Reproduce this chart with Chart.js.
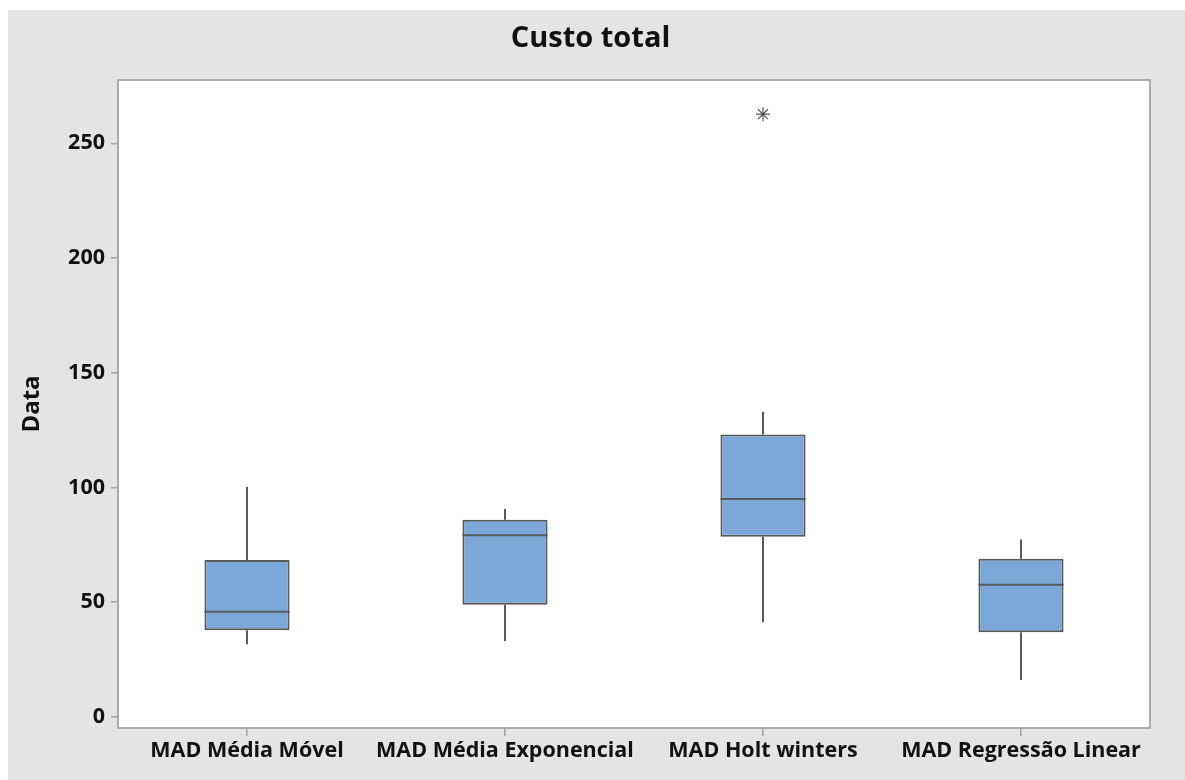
<!DOCTYPE html>
<html>
<head>
<meta charset="utf-8">
<title>Custo total</title>
<script src="https://cdn.jsdelivr.net/npm/chart.js@4.4.1/dist/chart.umd.min.js"></script>
<style>
  body { margin: 0; background: #ffffff; }
  #wrap { position: absolute; left: 8px; top: 10px; width: 1177px; height: 770px; background: #e4e4e4; }
</style>
</head>
<body>
<div id="wrap"><canvas id="chart" width="1177" height="770"></canvas></div>
<script>
const categories = ['MAD Média Móvel', 'MAD Média Exponencial', 'MAD Holt winters', 'MAD Regressão Linear'];
const whiskerLow = [31.6, 33.0, 41.2, 16.0];
const q1 = [37.7, 48.8, 78.5, 36.8];
const median = [45.8, 79.1, 94.9, 57.6];
const q3 = [68.3, 85.9, 123.1, 68.9];
const whiskerHigh = [100.3, 90.6, 133.0, 77.3];
const outliers = [null, null, 262.7, null];
const yTicks = [0, 50, 100, 150, 200, 250];

const lineColor = '#595959';
const frameColor = '#a3a3a3';
const font = 'Open Sans';

// whiskers, medians and the frame round the plot area
const boxPlot = {
    id: 'boxPlot',
    beforeDraw(chart) {
        const {ctx, chartArea: a} = chart;
        ctx.save();
        ctx.fillStyle = '#ffffff';
        ctx.fillRect(a.left, a.top, a.right - a.left, a.bottom - a.top);
        ctx.restore();
    },
    afterDatasetsDraw(chart) {
        const {ctx, chartArea: a, scales: {y}} = chart;
        const meta = chart.getDatasetMeta(0);
        ctx.save();
        ctx.strokeStyle = lineColor;
        ctx.lineWidth = 2;
        meta.data.forEach((bar, i) => {
            const x = bar.x, half = bar.width / 2;
            ctx.beginPath();
            ctx.moveTo(x, y.getPixelForValue(q3[i]));
            ctx.lineTo(x, y.getPixelForValue(whiskerHigh[i]));
            ctx.moveTo(x, y.getPixelForValue(q1[i]));
            ctx.lineTo(x, y.getPixelForValue(whiskerLow[i]));
            ctx.moveTo(x - half, y.getPixelForValue(median[i]));
            ctx.lineTo(x + half, y.getPixelForValue(median[i]));
            ctx.stroke();
        });
        ctx.strokeStyle = frameColor;
        ctx.lineWidth = 1.8;
        ctx.strokeRect(a.left, a.top, a.right - a.left, a.bottom - a.top);
        ctx.restore();
    }
};

const chart = document.querySelector('#chart').getContext('2d');

new Chart(chart, {
    type: 'bar',
    data: {
        labels: categories,
        datasets: [
            {
                data: q1.map((v, i) => [v, q3[i]]),
                backgroundColor: '#7ba7d9',
                borderColor: lineColor,
                borderWidth: 2,
                borderSkipped: false,
                categoryPercentage: 1,
                barPercentage: 0.33
            },
            {
                type: 'line',
                data: outliers,
                showLine: false,
                pointStyle: 'star',
                pointRadius: 7,
                pointBorderColor: '#555555',
                pointBorderWidth: 1.2
            }
        ]
    },
    options: {
        responsive: false,
        animation: false,
        layout: { padding: { right: 12 } },
        plugins: {
            legend: { display: false },
            tooltip: { enabled: false },
            title: {
                display: true,
                text: 'Custo total',
                color: '#111111',
                font: { family: font, size: 29, weight: 'bold', lineHeight: 1.2 },
                padding: { top: 11, bottom: 24.2 }
            }
        },
        scales: {
            x: {
                offset: true,
                border: { display: false },
                grid: { drawOnChartArea: false, drawTicks: true, tickLength: 8, lineWidth: 1.5, color: frameColor, offset: false },
                ticks: {
                    color: '#111111',
                    padding: 2,
                    maxRotation: 0,
                    autoSkip: false,
                    font: { family: font, size: 21.5, weight: 'bold' }
                },
                afterFit: s => { s.height = 52; }
            },
            y: {
                min: -4.9,
                max: 277.6,
                border: { display: false },
                grid: { drawOnChartArea: false, drawTicks: true, tickLength: 7, lineWidth: 1.5, color: frameColor },
                ticks: {
                    color: '#111111',
                    padding: 6,
                    font: { family: font, size: 21.5, weight: 'bold' }
                },
                afterBuildTicks: s => { s.ticks = yTicks.map(v => ({ value: v })); },
                title: {
                    display: true,
                    text: 'Data',
                    color: '#111111',
                    font: { family: font, size: 24, weight: 'bold', lineHeight: 1.2 },
                    padding: { top: 10 }
                },
                afterFit: s => { s.width = 110; }
            },
            // empty strip on the right of the frame
            yRight: {
                position: 'right',
                display: true,
                grid: { display: false },
                border: { display: false },
                ticks: { display: false },
                afterFit: s => { s.width = 23; }
            }
        }
    },
    plugins: [boxPlot]
});
</script>
</body>
</html>
